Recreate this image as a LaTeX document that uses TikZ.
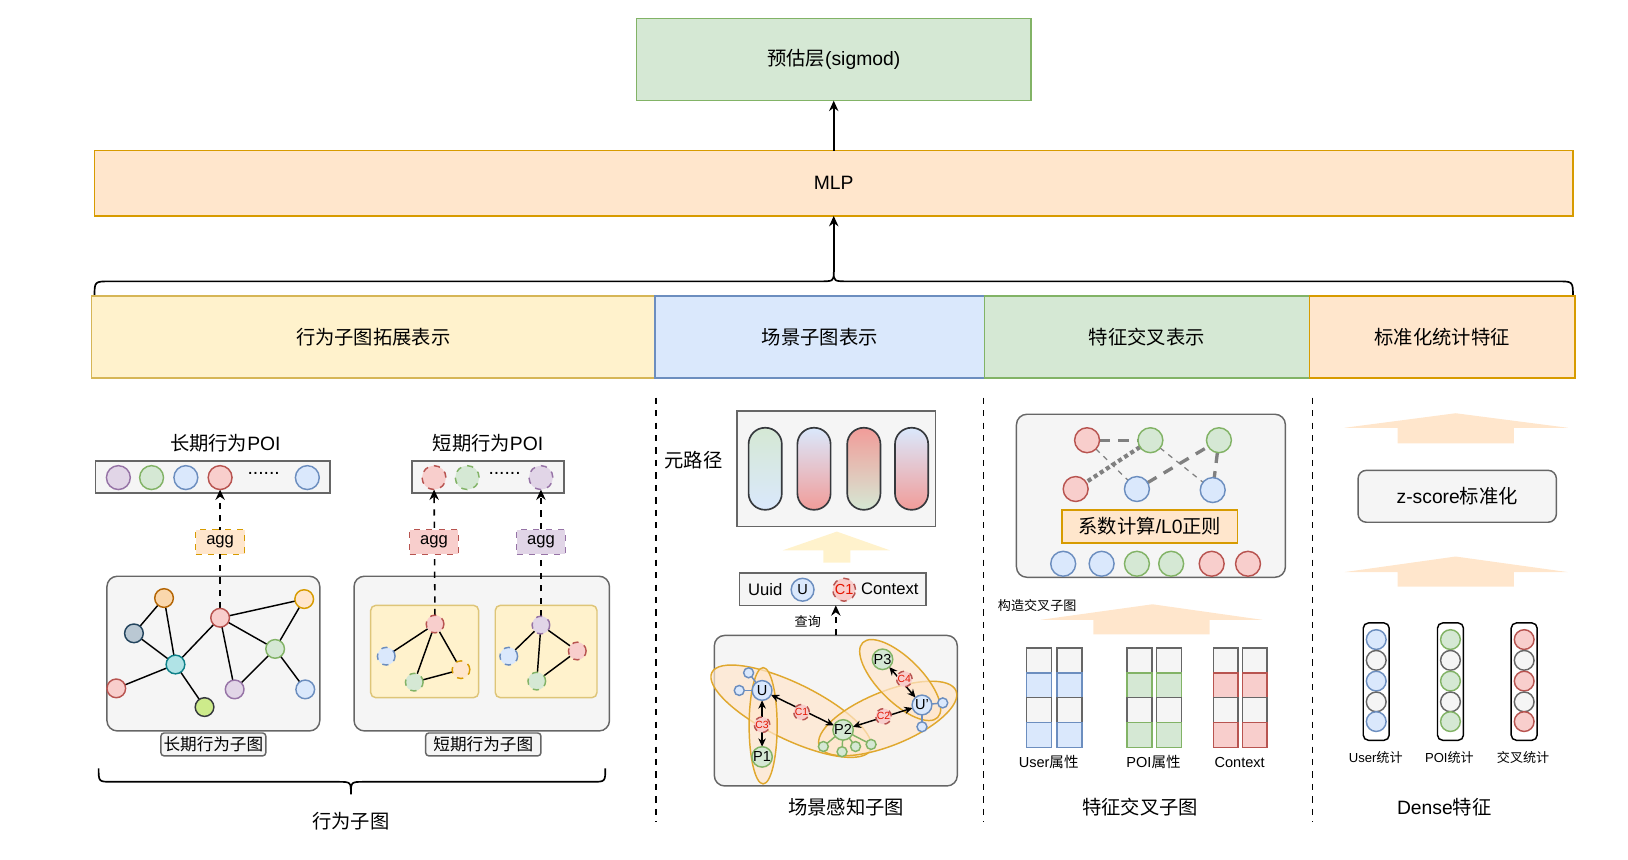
\documentclass[tikz,border=0pt]{standalone}
\usepackage{fontspec}
\setmainfont{Liberation Sans}
\newfontfamily\cjk{Noto Sans CJK SC}
\usetikzlibrary{arrows.meta,shapes.geometric}
\newcommand\zh[1]{{\cjk #1}}
\definecolor{purF}{HTML}{E1D5E7}\definecolor{purD}{HTML}{9673A6}
\definecolor{grnF}{HTML}{D5E8D4}\definecolor{grnD}{HTML}{82B366}
\definecolor{bluF}{HTML}{DAE8FC}\definecolor{bluD}{HTML}{6C8EBF}
\definecolor{redF}{HTML}{F8CECC}\definecolor{redD}{HTML}{B85450}
\definecolor{orgF}{HTML}{FFE6CC}\definecolor{orgD}{HTML}{D79B00}
\definecolor{ylwF}{HTML}{FFF2CC}\definecolor{ylwD}{HTML}{D6B656}
\definecolor{gryF}{HTML}{F5F5F5}\definecolor{gryD}{HTML}{666666}
\definecolor{oraF}{HTML}{FAD7AC}\definecolor{oraD}{HTML}{B46504}
\definecolor{bgrF}{HTML}{BAC8D3}\definecolor{bgrD}{HTML}{23445D}
\definecolor{tealF}{HTML}{B0E3E6}\definecolor{tealD}{HTML}{0E8088}
\definecolor{limF}{HTML}{CDEB8B}\definecolor{limD}{HTML}{36393D}
\definecolor{pinkS}{HTML}{F19C99}
\definecolor{pillD}{HTML}{36393D}
\definecolor{ellD}{HTML}{E0A82E}
\definecolor{fatY}{HTML}{FFF2CC}
\definecolor{fatO}{HTML}{FFE6CC}
\definecolor{edgeG}{HTML}{808080}
\definecolor{cred}{HTML}{E51400}
\pgfdeclarelayer{back}\pgfdeclarelayer{mid}\pgfsetlayers{back,mid,main}
\begin{document}
\begin{tikzpicture}[x=0.5pt,y=-0.5pt,
 bx/.style={draw, inner sep=0pt, outer sep=0pt, line width=0.7pt},
 dot/.style={circle, draw, inner sep=0pt, outer sep=0pt, minimum size=#1, line width=0.7pt},
 col/.style={fill=#1F, draw=#1D},
 txt/.style={inner sep=0pt, outer sep=0pt},
 f9/.style={font=\fontsize{9.3}{10}\selectfont},
 f8/.style={font=\fontsize{8}{9}\selectfont},
 f7/.style={font=\fontsize{7}{8}\selectfont},
 f6/.style={font=\fontsize{6.3}{7}\selectfont},
 f5/.style={font=\fontsize{5}{6}\selectfont},
 arr/.style={-{Stealth[length=5pt,width=4.5pt]}, line width=0.75pt},
 darr/.style={{Stealth[length=4pt,width=3.6pt]}-{Stealth[length=4pt,width=3.6pt]}, line width=0.7pt},
 gedge/.style={line width=0.7pt},
 sep/.style={line width=0.7pt, dash pattern=on 3pt off 3pt},
]
\useasboundingbox (0,0) rectangle (1568,828);

% ---------- top ----------
\node[bx,col=grn,minimum width=190pt,minimum height=39.5pt,f9] (pred) at (803,57.5) {\zh{预估层}(sigmod)};
\node[bx,col=org,minimum width=712pt,minimum height=31.5pt,f9] (mlp) at (803,176.5) {MLP};
\draw[arr] (mlp.north) -- (pred.south);
\coordinate (btip) at (803,262);
\draw[line width=0.8pt] (91,286) .. controls (91,271) .. (106,271) -- (788,271) .. controls (803,271) .. (btip) .. controls (803,271) .. (818,271) -- (1500,271) .. controls (1515,271) .. (1515,286);
\draw[arr] (btip) -- (mlp.south);

\node[bx,col=ylw,minimum width=271.5pt,minimum height=39.5pt,f9] (hA) at (359.5,324.5) {\zh{行为子图拓展表示}};
\node[bx,col=blu,minimum width=158.5pt,minimum height=39.5pt,f9] (hB) at (789.5,324.5) {\zh{场景子图表示}};
\node[bx,col=grn,minimum width=156.5pt,minimum height=39.5pt,f9] (hC) at (1104.5,324.5) {\zh{特征交叉表示}};
\node[bx,col=org,minimum width=128pt,minimum height=39.5pt,f9] (hD) at (1389,324.5) {\zh{标准化统计特征}};

\draw[sep] (632,383) -- (632,792);
\draw[sep] (947,383) -- (947,792);
\draw[sep] (1264,383) -- (1264,792);

% ---------- long-term ----------
\node[txt,f9] (t1) at (217,427) {\zh{长期行为}POI};
\begin{pgfonlayer}{back}
\node[bx,col=gry,minimum width=113pt,minimum height=15.5pt] (poi1) at (205,459.5) {};
\node[bx,col=gry,rounded corners=5pt,minimum width=102.5pt,minimum height=74.5pt] (g1) at (205.5,629.5) {};
\node[bx,col=gry,minimum width=73pt,minimum height=15.5pt] (poi2) at (470,459.5) {};
\node[bx,col=gry,rounded corners=5pt,minimum width=123pt,minimum height=74.5pt] (g2) at (464,629.5) {};
\node[bx,col=ylw,draw=ylwD!80,rounded corners=2.5pt,minimum width=52pt,minimum height=44.5pt] (in1) at (409,627.5) {};
\node[bx,col=ylw,draw=ylwD!80,rounded corners=2.5pt,minimum width=49pt,minimum height=44.5pt] (in2) at (526,627.5) {};
\end{pgfonlayer}
\node[dot=11.5pt,col=pur] (l1a) at (114,460) {};
\node[dot=11.5pt,col=grn] (l1b) at (146,460) {};
\node[dot=11.5pt,col=blu] (l1c) at (179,460) {};
\node[dot=11.5pt,col=red] (l1d) at (212,460) {};
\node[txt,f9] (l1dots) at (254,456) {......};
\node[dot=11.5pt,col=blu] (l1e) at (296,460) {};
\node[bx,col=org,dashed,minimum width=23.5pt,minimum height=12pt,f8] (agg1) at (212,522) {agg};

\node[dot=9pt,col=ora] (n1) at (158,576) {};
\node[dot=9pt,col=bgr] (n2) at (129,610) {};
\node[dot=9pt,col=teal] (n3) at (169,640) {};
\node[dot=9pt,col=red] (n4) at (112,663) {};
\node[dot=9pt,col=lim] (n5) at (197,681) {};
\node[dot=9pt,col=red] (n6) at (212,595) {};
\node[dot=9pt,col=org] (n7) at (293,577) {};
\node[dot=9pt,col=grn] (n8) at (265,625) {};
\node[dot=9pt,col=pur] (n9) at (226,664) {};
\node[dot=9pt,col=blu] (n10) at (294,664) {};
\begin{pgfonlayer}{mid}
\foreach \a/\b in {n1/n2,n1/n3,n2/n3,n3/n4,n3/n5,n3/n6,n6/n7,n6/n8,n6/n9,n8/n7,n8/n9,n8/n10}
  \draw[gedge] (\a) -- (\b);
\draw[arr,dashed] (n6) -- (l1d);
\end{pgfonlayer}
\node[bx,col=gry,rounded corners=1.5pt,minimum width=50.5pt,minimum height=11pt,f8] (lab1) at (205.5,717) {\zh{长期行为子图}};

% ---------- short-term ----------
\node[txt,f9] (t2) at (470,427) {\zh{短期行为}POI};
\node[dot=11.5pt,col=red,dashed] (sa) at (418,460) {};
\node[dot=11.5pt,col=grn,dashed] (sb) at (450,460) {};
\node[txt,f9] (sdots) at (486,456) {......};
\node[dot=11.5pt,col=pur,dashed] (sc) at (521,460) {};
\node[bx,col=red,dashed,minimum width=23.5pt,minimum height=12pt,f8] (agg2) at (418,522) {agg};
\node[bx,col=pur,dashed,minimum width=23.5pt,minimum height=12pt,f8] (agg3) at (521,522) {agg};
\node[dot=8.5pt,col=red,dashed] (ia) at (419,601) {};
\node[dot=8.5pt,col=blu,dashed] (ib) at (372,632) {};
\node[dot=8.5pt,col=grn,dashed] (ic) at (399,657) {};
\node[dot=8.5pt,col=org,dashed] (id) at (444,645) {};
\node[dot=8.5pt,col=pur,dashed] (ja) at (521,602) {};
\node[dot=8.5pt,col=blu,dashed] (jb) at (490,632) {};
\node[dot=8.5pt,col=red,dashed] (jc) at (556,627) {};
\node[dot=8.5pt,col=grn,dashed] (jd) at (517,656) {};
\begin{pgfonlayer}{mid}
\foreach \a/\b in {ia/ib,ia/ic,ia/id,ic/id,ja/jb,ja/jd,ja/jc,jd/jc}
  \draw[gedge] (\a) -- (\b);
\draw[arr,dashed] (ia) -- (sa);
\draw[arr,dashed] (ja) -- (sc);
\end{pgfonlayer}
\node[bx,col=gry,rounded corners=1.5pt,minimum width=55.5pt,minimum height=11pt,f8] (lab2) at (465.5,717) {\zh{短期行为子图}};

\coordinate (b2tip) at (338,765);
\draw[line width=0.8pt] (95,740) .. controls (95,753) .. (108,753) -- (325,753) .. controls (338,753) .. (b2tip) .. controls (338,753) .. (351,753) -- (570,753) .. controls (583,753) .. (583,740);
\node[txt,f9] (t3) at (338,791) {\zh{行为子图}};

% ---------- scene ----------
\node[txt,f9] (mp) at (668,443) {\zh{元路径}};
\begin{pgfonlayer}{back}
\node[bx,col=gry,minimum width=95.5pt,minimum height=55.5pt] (meta) at (805.5,451.5) {};
\node[bx,col=gry,minimum width=90pt,minimum height=15.5pt] (uuid) at (802,567.5) {};
\node[bx,col=gry,rounded corners=5pt,minimum width=117pt,minimum height=72.5pt] (scene) at (805,684.5) {};
\end{pgfonlayer}
\node[draw=pillD,line width=0.8pt,rounded corners=7.9pt,top color=grnF,bottom color=bluF,minimum width=16pt,minimum height=39.5pt,inner sep=0pt] (p1) at (737,451.5) {};
\node[draw=pillD,line width=0.8pt,rounded corners=7.9pt,top color=bluF,bottom color=pinkS,minimum width=16pt,minimum height=39.5pt,inner sep=0pt] (p2) at (784,451.5) {};
\node[draw=pillD,line width=0.8pt,rounded corners=7.9pt,top color=pinkS,bottom color=grnF,minimum width=16pt,minimum height=39.5pt,inner sep=0pt] (p3) at (832,451.5) {};
\node[draw=pillD,line width=0.8pt,rounded corners=7.9pt,top color=bluF,bottom color=pinkS,minimum width=16pt,minimum height=39.5pt,inner sep=0pt] (p4) at (878,451.5) {};
\fill[fatY] (793,542) -- (793,530) -- (754,530) -- (806,512) -- (857,530) -- (819,530) -- (819,542) -- cycle;

\node[txt,f8] (uuidt) at (737,567.5) {Uuid};
\node[dot=11pt,col=blu,f7] (uc) at (773,568) {U};
\node[dot=11pt,col=red,dashed,text=cred,f7] (c1c) at (813,568) {C1};
\node[txt,f8] (ctxt) at (857,567.5) {Context};
\draw[arr,dashed] (scene.north) -- (uuid.south -| scene.north);
\node[txt,f6] (qx) at (778,599) {\zh{查询}};

\begin{pgfonlayer}{back}
\node[ellipse,draw=ellD,fill=orgF,fill opacity=0.7,line width=0.7pt,minimum width=85pt,minimum height=27pt,rotate=-26,inner sep=0pt] (e1) at (762,685) {};
\node[ellipse,draw=ellD,fill=orgF,fill opacity=0.7,line width=0.7pt,minimum width=13.5pt,minimum height=56pt,inner sep=0pt] (e2) at (735,699) {};
\node[ellipse,draw=ellD,fill=orgF,fill opacity=0.7,line width=0.7pt,minimum width=71pt,minimum height=26pt,rotate=22,inner sep=0pt] (e3) at (855,692) {};
\node[ellipse,draw=ellD,fill=orgF,fill opacity=0.7,line width=0.7pt,minimum width=51pt,minimum height=21pt,rotate=-45,inner sep=0pt] (e4) at (867,655) {};
\end{pgfonlayer}
\node[dot=9.5pt,col=blu,f7] (U) at (734,665) {U};
\node[dot=9.5pt,col=grn,f7] (P1) at (734,729) {P1};
\node[dot=9.5pt,col=grn,f7] (P2) at (812,703) {P2};
\node[dot=9.5pt,col=grn,f7] (P3) at (850,635) {P3};
\node[dot=9.5pt,col=blu,f7] (Up) at (888,679) {U'};
\node[dot=7.5pt,col=red,dashed,text=cred,f5] (C1) at (772,686) {C1};
\node[dot=7.5pt,col=red,dashed,text=cred,f5] (C2) at (851,690) {C2};
\node[dot=7.5pt,col=red,dashed,text=cred,f5] (C3) at (734,698) {C3};
\node[dot=7.5pt,col=red,dashed,text=cred,f5] (C4) at (871,654) {C4};
\node[dot=4.8pt,col=blu] (us1) at (721,648) {};
\node[dot=4.8pt,col=blu] (us2) at (712,665) {};
\node[dot=4.8pt,col=blu] (vs1) at (908,677) {};
\node[dot=4.8pt,col=blu] (vs2) at (888,700) {};
\node[dot=4.8pt,col=grn] (ps1) at (793,719) {};
\node[dot=4.8pt,col=grn] (ps2) at (811,724) {};
\node[dot=4.8pt,col=grn] (ps3) at (824,719) {};
\node[dot=4.8pt,col=grn] (ps4) at (839,717) {};
\begin{pgfonlayer}{mid}
\foreach \s in {us1,us2} \draw[bluD,line width=0.7pt] (U) -- (\s);
\foreach \s in {vs1,vs2} \draw[bluD,line width=0.7pt] (Up) -- (\s);
\foreach \s in {ps1,ps2,ps3,ps4} \draw[grnD,line width=0.7pt] (P2) -- (\s);
\draw[darr] (U) -- (P2);
\draw[darr] (P2) -- (Up);
\draw[darr] (U) -- (P1);
\draw[darr] (P3) -- (Up);
\end{pgfonlayer}
\node[txt,f9] (t4) at (815,777) {\zh{场景感知子图}};

% ---------- feature cross ----------
\begin{pgfonlayer}{back}
\node[bx,col=gry,rounded corners=5pt,minimum width=129.5pt,minimum height=78.5pt] (fbox) at (1108.5,477.5) {};
\end{pgfonlayer}
\node[dot=12pt,col=red] (fa) at (1047,424) {};
\node[dot=12pt,col=grn] (fb) at (1108,424) {};
\node[dot=12pt,col=grn] (fc) at (1174,424) {};
\node[dot=12pt,col=red] (fd) at (1036,471) {};
\node[dot=12pt,col=blu] (fe) at (1095,471) {};
\node[dot=12pt,col=blu] (ff) at (1168,472) {};
\begin{pgfonlayer}{mid}
\draw[edgeG,line width=1.6pt,dash pattern=on 5pt off 4pt] (fa) -- (fb);
\draw[edgeG,line width=0.6pt,dash pattern=on 2.5pt off 2.5pt] (fa) -- (fe);
\draw[edgeG,line width=2pt,dash pattern=on 2pt off 1.5pt] (fb) -- (fd);
\draw[edgeG,line width=0.6pt,dash pattern=on 2.5pt off 2.5pt] (fb) -- (ff);
\draw[edgeG,line width=1.6pt,dash pattern=on 5pt off 4pt] (fe) -- (fc);
\draw[edgeG,line width=1.6pt,dash pattern=on 5pt off 4pt] (fc) -- (ff);
\end{pgfonlayer}
\node[bx,col=org,minimum width=84.5pt,minimum height=16pt,f9] (coef) at (1107.5,507) {\zh{系数计算}/L0\zh{正则}};
\node[dot=12pt,col=blu] (fb1) at (1024,543) {};
\node[dot=12pt,col=blu] (fb2) at (1061,543) {};
\node[dot=12pt,col=grn] (fb3) at (1095,543) {};
\node[dot=12pt,col=grn] (fb4) at (1128,543) {};
\node[dot=12pt,col=red] (fb5) at (1167,543) {};
\node[dot=12pt,col=red] (fb6) at (1202,543) {};
\node[txt,f6] (gz) at (999,583) {\zh{构造交叉子图}};
\fill[fatO] (1053,611) -- (1053,597) -- (1002,597) -- (1110,582) -- (1216,597) -- (1165,597) -- (1165,611) -- cycle;
\foreach \cx/\c/\g in {1000.5/blu/ua, 1030/blu/ub, 1097.5/grn/pa, 1126/grn/pb, 1180.5/red/ca, 1208.5/red/cb} {
  \node[bx,col=gry,minimum width=12pt,minimum height=12pt] (\g1) at (\cx,636) {};
  \node[bx,col=\c,minimum width=12pt,minimum height=12pt] (\g2) at (\cx,660) {};
  \node[bx,col=gry,minimum width=12pt,minimum height=12pt] (\g3) at (\cx,684) {};
  \node[bx,col=\c,minimum width=12pt,minimum height=12pt] (\g4) at (\cx,708) {};
}
\node[txt,f7] (lu) at (1010,734) {User\zh{属性}};
\node[txt,f7] (lp) at (1111,734) {POI\zh{属性}};
\node[txt,f7] (lc) at (1194,734) {Context};
\node[txt,f9] (t5) at (1098,777) {\zh{特征交叉子图}};

% ---------- dense ----------
\fill[fatO] (1346,427) -- (1346,412) -- (1295,412) -- (1402,398) -- (1510,412) -- (1458,412) -- (1458,427) -- cycle;
\node[bx,col=gry,rounded corners=4pt,minimum width=95.5pt,minimum height=25pt,f9] (zs) at (1403.5,478) {z-score\zh{标准化}};
\fill[fatO] (1346,565) -- (1346,551) -- (1295,551) -- (1402,536) -- (1510,551) -- (1458,551) -- (1458,565) -- cycle;
\foreach \cx/\c/\g in {1325.5/blu/du, 1397/grn/dp, 1468/red/dx} {
  \begin{pgfonlayer}{back}
  \node[bx,draw=black,fill=white,rounded corners=2.5pt,minimum width=12.5pt,minimum height=56.5pt] (\g) at (\cx,656.5) {};
  \end{pgfonlayer}
  \node[dot=9.5pt,col=\c] (\g1) at (\cx,616) {};
  \node[dot=9.5pt,col=gry] (\g2) at (\cx,636) {};
  \node[dot=9.5pt,col=\c] (\g3) at (\cx,656) {};
  \node[dot=9.5pt,col=gry] (\g4) at (\cx,676) {};
  \node[dot=9.5pt,col=\c] (\g5) at (\cx,695) {};
}
\node[txt,f6] (ld1) at (1325,730) {User\zh{统计}};
\node[txt,f6] (ld2) at (1396,730) {POI\zh{统计}};
\node[txt,f6] (ld3) at (1467,730) {\zh{交叉统计}};
\node[txt,f9] (t6) at (1391,777) {Dense\zh{特征}};
\end{tikzpicture}
\end{document}
